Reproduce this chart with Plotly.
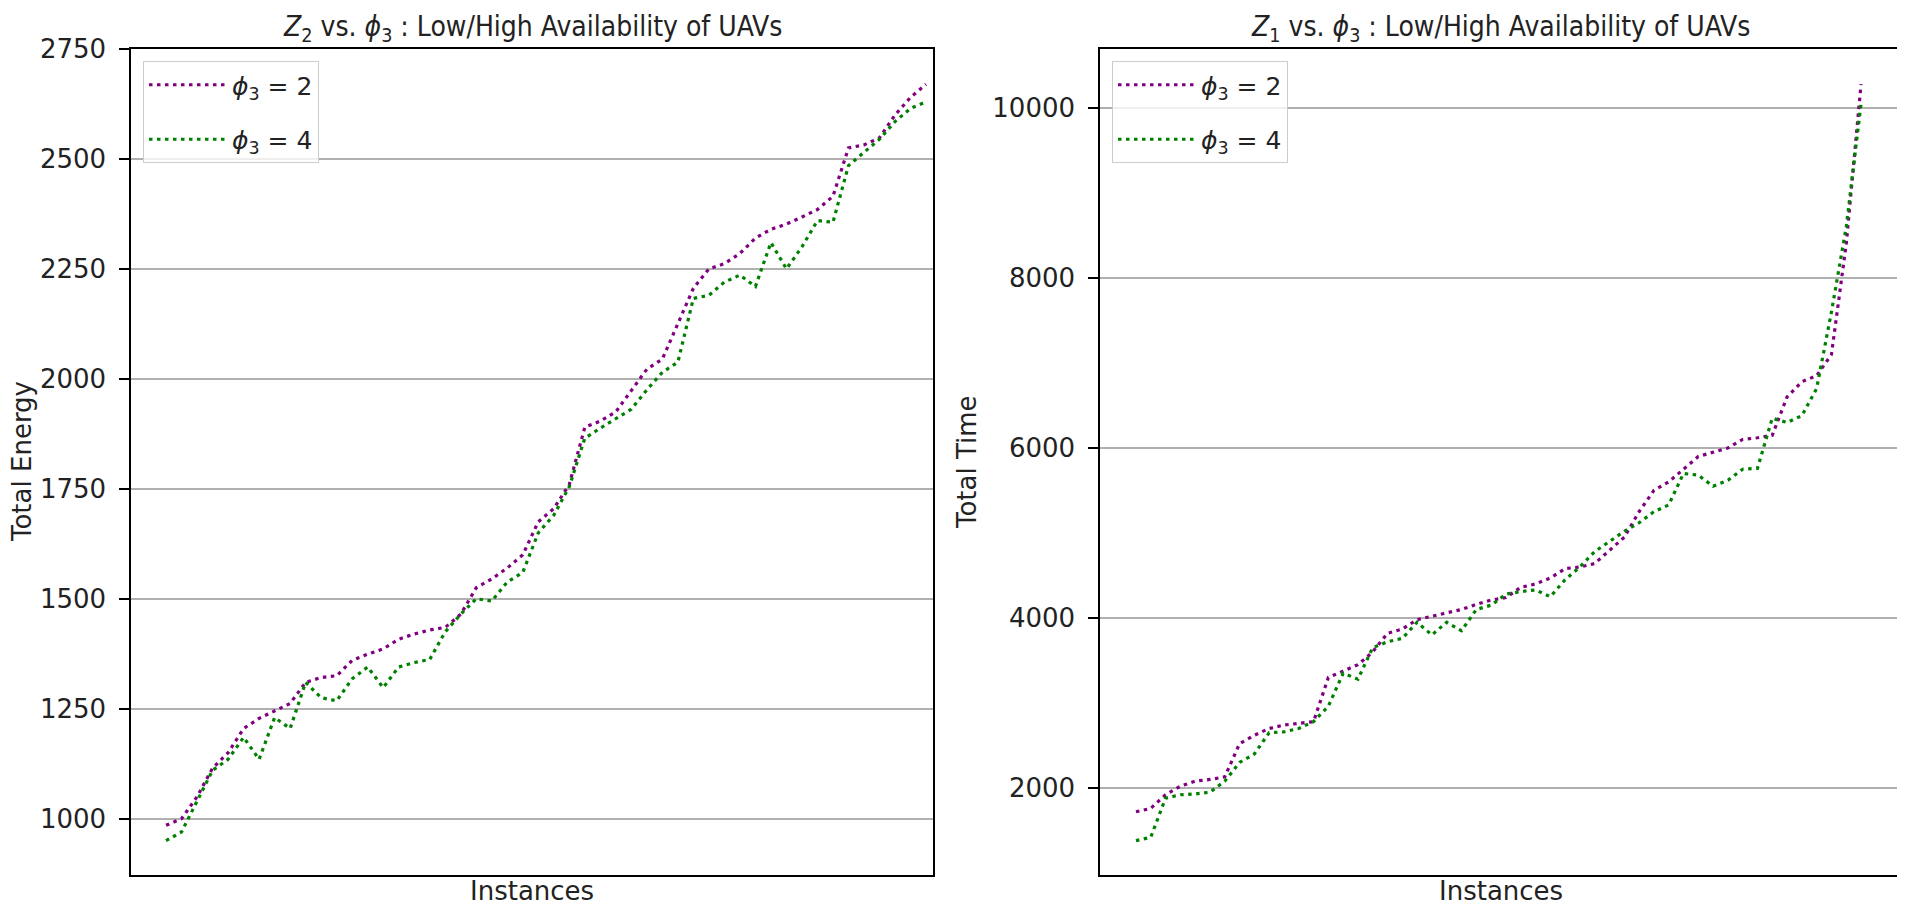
import plotly.graph_objects as go

# ---------------- data ----------------
instances = list(range(50))

energy_phi2 = [985, 1000, 1050, 1115, 1150, 1205, 1228, 1245, 1262, 1310,
               1321, 1325, 1360, 1374, 1386, 1408, 1420, 1429, 1435, 1465,
               1525, 1545, 1570, 1600, 1675, 1705, 1760, 1890, 1904, 1925,
               1975, 2022, 2045, 2125, 2206, 2250, 2262, 2285, 2320, 2340,
               2352, 2368, 2385, 2415, 2525, 2532, 2548, 2600, 2640, 2670]
energy_phi4 = [950, 970, 1040, 1110, 1135, 1185, 1135, 1230, 1205, 1310,
               1275, 1268, 1318, 1345, 1298, 1345, 1355, 1362, 1425, 1465,
               1500, 1495, 1538, 1560, 1650, 1690, 1755, 1865, 1888, 1910,
               1931, 1975, 2015, 2038, 2183, 2190, 2220, 2236, 2210, 2310,
               2250, 2300, 2360, 2356, 2485, 2515, 2545, 2585, 2615, 2630]

time_phi2 = [1720, 1760, 1920, 2020, 2080, 2100, 2130, 2520, 2620, 2700,
             2740, 2760, 2780, 3300, 3380, 3450, 3600, 3820, 3870, 3980,
             4020, 4060, 4100, 4160, 4210, 4240, 4360, 4400, 4470, 4580,
             4600, 4640, 4800, 4950, 5250, 5500, 5600, 5750, 5900, 5950,
             6000, 6100, 6120, 6150, 6600, 6780, 6850, 7100, 8400, 10280]
time_phi4 = [1380, 1420, 1880, 1920, 1930, 1950, 2080, 2300, 2400, 2650,
             2660, 2700, 2780, 2960, 3350, 3280, 3650, 3720, 3760, 3950,
             3800, 3950, 3850, 4100, 4150, 4280, 4310, 4330, 4250, 4450,
             4600, 4780, 4900, 5020, 5120, 5250, 5330, 5700, 5680, 5550,
             5620, 5750, 5760, 6350, 6300, 6380, 6700, 7600, 8600, 10050]

energy_ticks = [1000, 1250, 1500, 1750, 2000, 2250, 2500, 2750]
time_ticks = [2000, 4000, 6000, 8000, 10000]
time_tick_labels = ["2000", "4000", "6000", "8000", "10000"]

label_phi2 = "<i>ϕ</i><sub>3</sub> = 2"
label_phi4 = "<i>ϕ</i><sub>3</sub> = 4"
title_left = "<i>Z</i><sub>2</sub> vs. <i>ϕ</i><sub>3</sub> : Low/High Availability of UAVs"
title_right = "<i>Z</i><sub>1</sub> vs. <i>ϕ</i><sub>3</sub> : Low/High Availability of UAVs"

# ---------------- style ----------------
W, H = 1897, 898
FONT = "DejaVu Sans"
TITLE_FONT = "DejaVu Sans Condensed, DejaVu Sans"
PURPLE = "#800080"
GREEN = "#008000"
DASH = "3.5px,4.5px"
LW = 3.2

fig = go.Figure()
fig.add_trace(go.Scatter(x=instances, y=energy_phi2, mode="lines", name=label_phi2,
                         line=dict(color=PURPLE, width=LW, dash=DASH), legendgroup="a",
                         xaxis="x", yaxis="y", legend="legend"))
fig.add_trace(go.Scatter(x=instances, y=energy_phi4, mode="lines", name=label_phi4,
                         line=dict(color=GREEN, width=LW, dash=DASH), legendgroup="b",
                         xaxis="x", yaxis="y", legend="legend"))
fig.add_trace(go.Scatter(x=instances, y=time_phi2, mode="lines", name=label_phi2,
                         line=dict(color=PURPLE, width=LW, dash=DASH), legendgroup="c",
                         xaxis="x2", yaxis="y2", legend="legend2"))
fig.add_trace(go.Scatter(x=instances, y=time_phi4, mode="lines", name=label_phi4,
                         line=dict(color=GREEN, width=LW, dash=DASH), legendgroup="d",
                         xaxis="x2", yaxis="y2", legend="legend2"))

ydom = [1 - 867 / H, 1 - 41 / H]
xdom1 = [123 / W, 925 / W]
xdom2 = [1092 / W, 1893 / W]

common_x = dict(showgrid=False, zeroline=False, showticklabels=False, ticks="",
                showline=True, linecolor="black", linewidth=1.5, mirror=True,
                automargin=False)
common_y = dict(showgrid=True, gridcolor="#b0b0b0", gridwidth=1.5, zeroline=False,
                ticks="outside", ticklen=10, tickwidth=1.5, tickcolor="black",
                showline=True, linecolor="black", linewidth=1.5, mirror=True,
                tickfont=dict(family=FONT, size=26, color="#222222"),
                ticklabelstandoff=8, automargin=False)

legend_common = dict(bgcolor="rgba(255,255,255,0.8)", bordercolor="#cccccc", borderwidth=1,
                     font=dict(family=FONT, size=25, color="#222222"),
                     xanchor="left", yanchor="top", tracegroupgap=19, itemwidth=78)

fig.update_layout(
    width=W, height=H,
    margin=dict(l=0, r=0, t=0, b=0, autoexpand=False),
    paper_bgcolor="white", plot_bgcolor="white",
    font=dict(family=FONT, color="#222222"),
    xaxis=dict(domain=xdom1, range=[-2.26, 49.45], anchor="y", **common_x),
    yaxis=dict(domain=ydom, range=[872, 2750], tickvals=energy_ticks, anchor="x", **common_y),
    xaxis2=dict(domain=xdom2, range=[-2.43, 51.7], anchor="y2", **common_x),
    yaxis2=dict(domain=ydom, range=[976, 10694], tickvals=time_ticks,
                ticktext=time_tick_labels, anchor="x2", **common_y),
    legend=dict(x=135 / W, y=1 - 53 / H, **legend_common),
    legend2=dict(x=1104 / W, y=1 - 53 / H, **legend_common),
    showlegend=True,
)

ann = []
for xc, t in [(524 / W, title_left), (1492.5 / W, title_right)]:
    ann.append(dict(text=t, x=xc, y=1 - 20 / H, xref="paper", yref="paper",
                    xanchor="center", yanchor="middle", showarrow=False,
                    font=dict(family=TITLE_FONT, size=28, color="#222222")))
    ann.append(dict(text="Instances", x=xc, y=1 - 883 / H, xref="paper", yref="paper",
                    xanchor="center", yanchor="middle", showarrow=False,
                    font=dict(family=FONT, size=26, color="#222222")))
ymid = (ydom[0] + ydom[1]) / 2
for xc, t in [(14 / W, "Total Energy"), (959 / W, "Total Time")]:
    ann.append(dict(text=t, x=xc, y=ymid, xref="paper", yref="paper", textangle=-90,
                    xanchor="center", yanchor="middle", showarrow=False,
                    font=dict(family=FONT, size=26, color="#222222")))
fig.update_layout(annotations=ann)

fig.write_html("out.html")
